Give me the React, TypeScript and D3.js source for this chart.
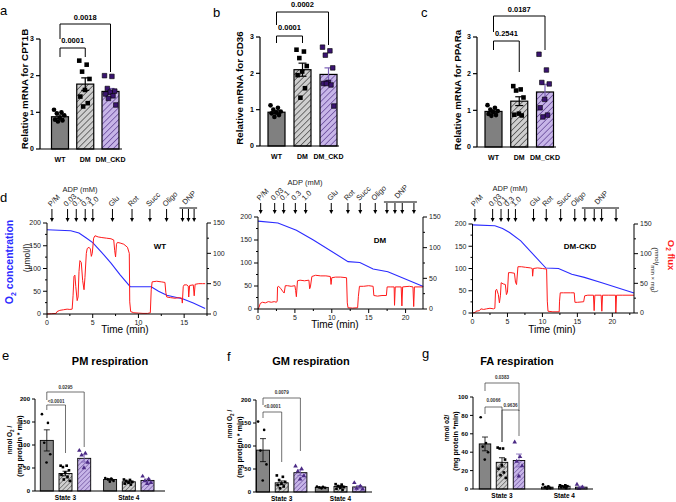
import React from "react";
import * as d3 from "d3";

const FONT = "'Liberation Sans', Arial, Helvetica, sans-serif";

// ---------- a–c: relative mRNA ----------
const groups = ["WT", "DM", "DM_CKD"];

const cpt1bMean = [0.88, 1.77, 1.57];
const cpt1bSem = [0.05, 0.17, 0.08];
const cpt1bPts = [
  [1.07, 1.0, 0.97, 0.92, 0.85, 0.8, 0.78, 0.75],
  [2.41, 2.3, 2.11, 1.91, 1.61, 1.43, 1.25, 1.16],
  [2.0, 1.98, 1.65, 1.58, 1.55, 1.5, 1.45, 1.38, 1.2],
];
const cpt1bP = ["0.0001", "0.0018"];

const cd36Mean = [0.93, 2.1, 1.97];
const cd36Sem = [0.04, 0.18, 0.18];
const cd36Pts = [
  [1.12, 1.05, 1.0, 0.95, 0.92, 0.9, 0.85, 0.8],
  [2.65, 2.6, 2.42, 2.2, 2.05, 1.95, 1.59, 1.33],
  [2.72, 2.62, 2.5, 2.15, 1.75, 1.72, 1.68, 1.72, 1.1],
];
const cd36P = ["0.0001", "0.0002"];

const pparMean = [0.97, 1.25, 1.5];
const pparSem = [0.04, 0.12, 0.21];
const pparPts = [
  [1.14, 1.07, 1.02, 0.98, 0.95, 0.9, 0.87, 0.85],
  [1.66, 1.57, 1.54, 1.35, 0.91, 0.88, 0.86],
  [2.53, 2.1, 1.76, 1.72, 1.3, 1.07, 0.87, 0.82],
];
const pparP = ["0.2541", "0.0187"];

// ---------- d: O2 traces (time in min) ----------
const injections = ["P/M", "0.03", "0.1", "0.3", "1.0", "Glu", "Rot", "Succ", "Oligo"];

const wtArrows = [0.54, 2.25, 3.2, 4.18, 5.01, 7.16, 9.3, 11.26, 13.08, 14.82, 15.47, 16.09];
const wtO2 = [
  [0, 185], [2.6, 183], [3.5, 178], [4.3, 167], [5.0, 157], [6, 135], [7, 112], [8, 86],
  [9.1, 60], [11.4, 60], [12.2, 50], [13.1, 41], [14.9, 33], [16, 24], [17.3, 12],
];
const wtFlux = [
  [0, 0], [0.5, 0.5], [1.0, 1], [1.1, 4], [1.4, 6], [1.8, 7], [2.2, 8], [2.5, 7.5], [2.75, 8],
  [2.85, 30], [2.95, 62], [3.05, 64], [3.15, 45], [3.3, 22], [3.4, 28], [3.5, 70], [3.6, 88],
  [3.75, 85], [3.9, 55], [4.05, 40], [4.15, 60], [4.3, 100], [4.4, 108], [4.6, 110], [4.75, 107],
  [4.85, 95], [4.95, 100], [5.1, 125], [5.25, 129], [5.6, 127], [6.0, 126], [6.5, 125], [7.0, 124],
  [7.3, 122], [7.4, 105], [7.5, 94], [7.6, 115], [7.7, 118], [8.0, 117], [8.4, 115], [8.8, 110],
  [9.0, 100], [9.05, 20], [9.15, 4], [9.5, 2], [10, 1.5], [10.5, 1], [11.0, 1], [11.3, 2],
  [11.4, 40], [11.5, 53], [12.0, 54], [12.5, 53], [12.9, 52], [13.0, 35], [13.1, 28], [13.5, 27],
  [14.0, 26], [14.5, 27], [14.75, 26], [14.8, 18], [14.9, 45], [15.0, 48], [15.3, 48], [15.45, 46],
  [15.5, 28], [15.6, 47], [16.0, 48], [16.1, 30], [16.2, 49], [16.6, 50], [17.0, 50], [17.3, 50],
];

const dmArrows = [0.36, 2.26, 3.48, 5.06, 6.46, 9.93, 12.19, 13.86, 15.89, 17.47, 18.56, 19.55, 21.13];
const dmO2 = [
  [0, 191], [2.7, 187], [5.2, 171], [7.5, 150], [12.2, 103], [13.8, 101], [15.6, 87],
  [17.6, 81], [22.4, 49],
];
const dmFlux = [
  [0, 0], [0.15, 3], [0.3, 9], [0.6, 11], [1.0, 10], [1.4, 12], [1.8, 11], [2.2, 12], [2.5, 11],
  [2.6, 13], [2.65, 36], [2.8, 37], [3.1, 33], [3.4, 28], [3.55, 26], [3.7, 38], [4.0, 38],
  [4.5, 37], [5.0, 38], [5.1, 30], [5.2, 20], [5.35, 46], [5.7, 47], [6.3, 46], [6.9, 47],
  [7.0, 33], [7.1, 36], [7.3, 53], [7.8, 55], [8.5, 54], [9.2, 54], [9.8, 53], [9.9, 40],
  [10.0, 51], [10.5, 52], [11.2, 52], [12.0, 51], [12.1, 10], [12.2, 2], [12.8, 1.5], [13.5, 2],
  [13.6, 20], [13.75, 37], [14.3, 37], [15.0, 38], [15.6, 37], [15.7, 22], [16.2, 21], [16.8, 22],
  [17.4, 22], [17.5, 36], [18.0, 36], [18.45, 36], [18.5, 6], [18.6, 36], [19.4, 36], [19.5, 5],
  [19.6, 36], [20.5, 37], [21.0, 36], [21.1, 4], [21.2, 36], [22.36, 36],
];

const ckdArrows = [0.34, 2.88, 4.08, 5.13, 6.14, 8.73, 10.55, 12.61, 14.63, 16.07, 17.41, 18.47, 20.53];
const ckdO2 = [
  [0, 198], [3.2, 196], [4.3, 190], [5.3, 181], [6.9, 162], [10.5, 101], [12.3, 100],
  [14.2, 87], [16, 80], [18.5, 68], [23.1, 45],
];
const ckdFlux = [
  [0, 0], [0.4, 1], [0.5, 3], [1.0, 4], [1.2, 7], [1.6, 6], [2.0, 7], [2.5, 8], [3.0, 7], [3.2, 8],
  [3.3, 38], [3.45, 40], [3.7, 31], [3.85, 17], [4.0, 30], [4.1, 51], [4.4, 49], [4.7, 48],
  [4.85, 31], [5.0, 35], [5.15, 68], [5.5, 68], [6.0, 67], [6.15, 52], [6.3, 48], [6.5, 78],
  [7.0, 78], [7.6, 77], [8.3, 76], [8.55, 75], [8.6, 62], [8.7, 75], [9.3, 76], [10, 75],
  [10.6, 74], [10.7, 20], [10.8, 3], [11.5, 2], [12.4, 2], [12.45, 20], [12.55, 34], [13.0, 34],
  [14.0, 34], [14.55, 34], [14.65, 18], [15.0, 18], [15.9, 19], [16.05, 29], [16.5, 30],
  [17.3, 30], [17.4, 4], [17.5, 30], [18.4, 30], [18.5, 3], [18.6, 30], [19.5, 30], [20.45, 30],
  [20.5, 0], [20.6, 30], [21.5, 30], [23.1, 30],
];

// ---------- e–g: respiration ----------
const states = ["State 3", "State 4"];

const pmMean = [[110, 38, 71], [25, 20, 23]];
const pmSem = [[23, 5, 8], [2, 2, 3]];
const pmS3Pts = [[167, 148, 105, 80, 62], [55, 55, 52, 45, 40, 35, 30, 25, 22], [88, 82, 78, 62, 50]];
const pmS4Pts = [[28, 27, 26, 22, 20], [25, 24, 22, 20, 18, 16, 14], [32, 26, 22, 18, 16]];
const pmP = ["<0.0001", "0.0295"];

const gmMean = [[91, 20, 42], [10, 12, 11]];
const gmSem = [[25, 4, 6], [1, 2, 3]];
const gmS3Pts = [[153, 135, 90, 60, 25], [36, 33, 26, 22, 18, 15, 12, 8], [56, 50, 45, 35, 28]];
const gmS4Pts = [[12, 11, 10, 9, 8], [17, 16, 13, 11, 9, 7, 5], [20, 13, 8, 6]];
const gmP = ["<0.0001", "0.0079"];

const faMean = [[49, 29, 31], [2, 3, 2]];
const faSem = [[7.5, 5, 7], [1, 0.5, 1]];
const faS3Pts = [[78, 50, 46, 40, 32], [45, 44, 44, 32, 26, 22, 18, 15, 12], [51, 35, 30, 25, 14]];
const faS4Pts = [[5, 3, 2, 1, 0.5], [4, 4, 3, 3, 2, 2, 1], [5, 2, 0.5]];
const faP = ["0.0066", "0.0383", "0.9636"];

// ---------- styles ----------
const barFills = ["#808080", "url(#hatchGray)", "url(#hatchPurple)"];
const errColors = ["#000", "#000", "#7b5fb5"];
const BLUE = "#2b2bff";
const RED = "#ff1a1a";

// spread scatter points across a bar without randomness
const jitter = (i: number, w: number) => (((i * 0.618) % 1) - 0.5) * w;

type Bracket = { y: number; l: number; r: number; ty: number };

type GeneCfg = {
  letter: string; letterX: number; letterY: number; gene: string;
  axisX: number; axisEnd: number; y0: number; y3: number; centers: [number, number];
  yLabelX: number; yLabelY: number;
  mean: number[]; sem: number[]; pts: number[][]; pvals: string[]; brackets: Bracket[];
};

const genePanels: GeneCfg[] = [
  {
    letter: "a", letterX: 0, letterY: 15, gene: "CPT1B", axisX: 40, axisEnd: 122, y0: 149, y3: 39,
    centers: [60, 110.5], yLabelX: 28, yLabelY: 89, mean: cpt1bMean, sem: cpt1bSem, pts: cpt1bPts,
    pvals: cpt1bP, brackets: [{ y: 48, l: 57, r: 57, ty: 42.5 }, { y: 24, l: 39, r: 72, ty: 19.5 }],
  },
  {
    letter: "b", letterX: 213, letterY: 17, gene: "CD36", axisX: 260, axisEnd: 339, y0: 146, y3: 37,
    centers: [276.5, 328.5], yLabelX: 243, yLabelY: 88, mean: cd36Mean, sem: cd36Sem, pts: cd36Pts,
    pvals: cd36P, brackets: [{ y: 36, l: 43, r: 43, ty: 30 }, { y: 12, l: 25, r: 45, ty: 6.5 }],
  },
  {
    letter: "c", letterX: 421, letterY: 17, gene: "PPARa", axisX: 477, axisEnd: 556, y0: 147, y3: 37,
    centers: [493.5, 545], yLabelX: 461, yLabelY: 90, mean: pparMean, sem: pparSem, pts: pparPts,
    pvals: pparP, brackets: [{ y: 41, l: 50, r: 72, ty: 36 }, { y: 16, l: 32, r: 50, ty: 12 }],
  },
];

function GenePanel({ cfg }: { cfg: GeneCfg }) {
  const y = d3.scaleLinear().domain([0, 3]).range([cfg.y0, cfg.y3]);
  const x = d3.scalePoint<string>().domain(groups).range(cfg.centers);
  const bw = 17;
  const circle = d3.symbol(d3.symbolCircle, 17)()!;
  const square = d3.symbol(d3.symbolSquare, 21)()!;
  const pairs = [[0, 1], [0, 2]];
  return (
    <g>
      <text x={cfg.letterX} y={cfg.letterY} fontSize={13}>{cfg.letter}</text>
      <text transform={`translate(${cfg.yLabelX},${cfg.yLabelY}) rotate(-90)`} textAnchor="middle"
        fontSize={9.8} fontWeight="bold">{`Relative mRNA for ${cfg.gene}`}</text>
      {groups.map((g, i) => (
        <rect key={g} x={x(g)! - bw / 2} y={y(cfg.mean[i])} width={bw} height={cfg.y0 - y(cfg.mean[i])}
          fill={barFills[i]} stroke="#000" strokeWidth={1.2} />
      ))}
      {groups.map((g, i) => {
        const cx = x(g)!;
        const lo = y(cfg.mean[i] - cfg.sem[i]);
        const hi = y(cfg.mean[i] + cfg.sem[i]);
        return (
          <g key={g} stroke={errColors[i]} strokeWidth={1.2}>
            <line x1={cx} x2={cx} y1={lo} y2={hi} />
            <line x1={cx - 4} x2={cx + 4} y1={hi} y2={hi} />
            <line x1={cx - 4} x2={cx + 4} y1={lo} y2={lo} />
          </g>
        );
      })}
      {cfg.pts.map((arr, gi) =>
        arr.map((v, k) => (
          <path key={`${gi}-${k}`} d={gi === 0 ? circle : square}
            transform={`translate(${x(groups[gi])! + jitter(k, 12)},${y(v)})`}
            fill={gi === 2 ? "#3a1470" : "#000"} stroke="#000" strokeWidth={gi === 2 ? 0.6 : 0} />
        ))
      )}
      {/* axes */}
      <line x1={cfg.axisX} x2={cfg.axisX} y1={cfg.y0} y2={y(3)} stroke="#000" strokeWidth={1.2} />
      <line x1={cfg.axisX} x2={cfg.axisEnd} y1={cfg.y0} y2={cfg.y0} stroke="#000" strokeWidth={1.2} />
      {y.ticks(3).map((t) => (
        <g key={t}>
          <line x1={cfg.axisX - 4} x2={cfg.axisX} y1={y(t)} y2={y(t)} stroke="#000" strokeWidth={1.2} />
          <text x={cfg.axisX - 6} y={y(t)} dy="0.35em" textAnchor="end" fontSize={7} fontWeight="bold">{t}</text>
        </g>
      ))}
      {groups.map((g) => (
        <text key={g} x={x(g)} y={cfg.y0 + 12.5} textAnchor="middle" fontSize={7} fontWeight="bold">{g}</text>
      ))}
      {pairs.map(([a, b], i) => {
        const br = cfg.brackets[i];
        const xa = x(groups[a])!;
        const xb = x(groups[b])!;
        return (
          <g key={i}>
            <path d={`M${xa},${br.l}V${br.y}H${xb}V${br.r}`} fill="none" stroke="#000" strokeWidth={1} />
            <text x={(xa + xb) / 2} y={br.ty} textAnchor="middle" fontSize={7.5} fontWeight="bold">{cfg.pvals[i]}</text>
          </g>
        );
      })}
    </g>
  );
}

type TraceCfg = {
  left: number; right: number; tMax: number; top: number; bottom: number;
  arrowTop: number; arrowTip: number; arrows: number[]; adpX: number; adpY: number;
  tag: string; tagX: number; tagY: number; timeX: number; timeY: number;
  o2: number[][]; flux: number[][];
};

const traces: TraceCfg[] = [
  {
    left: 47, right: 207, tMax: 17.5, top: 223, bottom: 314, arrowTop: 209, arrowTip: 222,
    arrows: wtArrows, adpX: 80, adpY: 192, tag: "WT", tagX: 160, tagY: 249, timeX: 125, timeY: 333,
    o2: wtO2, flux: wtFlux,
  },
  {
    left: 258, right: 423, tMax: 22.36, top: 217, bottom: 309, arrowTop: 203, arrowTip: 214,
    arrows: dmArrows, adpX: 305, adpY: 185, tag: "DM", tagX: 380, tagY: 243, timeX: 335, timeY: 328,
    o2: dmO2, flux: dmFlux,
  },
  {
    left: 472.5, right: 634, tMax: 23.1, top: 224, bottom: 313, arrowTop: 209, arrowTip: 222,
    arrows: ckdArrows, adpX: 510, adpY: 191, tag: "DM-CKD", tagX: 580, tagY: 249, timeX: 552, timeY: 333,
    o2: ckdO2, flux: ckdFlux,
  },
];

function TracePanel({ cfg }: { cfg: TraceCfg }) {
  const x = d3.scaleLinear().domain([0, cfg.tMax]).range([cfg.left, cfg.right]);
  const yL = d3.scaleLinear().domain([0, 200]).range([cfg.bottom, cfg.top]);
  const yR = d3.scaleLinear().domain([0, 150]).range([cfg.bottom, cfg.top]);
  const o2Line = d3.line<number[]>().x((d) => x(d[0])).y((d) => yL(d[1]));
  const fluxLine = d3.line<number[]>().x((d) => x(d[0])).y((d) => yR(d[1]));
  const leftTicks = d3.range(0, 201, 25);
  const rightTicks = d3.range(0, 151, 25);
  const timeTicks = d3.range(0, cfg.tMax + 0.01, 2.5);
  const dnp = cfg.arrows.slice(injections.length);
  const dnpX0 = x(dnp[0]) - 3;
  const dnpX1 = x(dnp[dnp.length - 1]) + 3;
  return (
    <g>
      <path d={o2Line(cfg.o2)!} fill="none" stroke={BLUE} strokeWidth={1.1} />
      <path d={fluxLine(cfg.flux)!} fill="none" stroke={RED} strokeWidth={1} strokeLinejoin="round" />
      {/* axes */}
      <g stroke="#000" strokeWidth={1}>
        <line x1={cfg.left} x2={cfg.left} y1={cfg.bottom} y2={cfg.top} />
        <line x1={cfg.right} x2={cfg.right} y1={cfg.bottom} y2={cfg.top} />
        <line x1={cfg.left} x2={cfg.right} y1={cfg.bottom} y2={cfg.bottom} />
        {leftTicks.map((t) => (
          <line key={`l${t}`} x1={cfg.left - (t % 50 === 0 ? 4 : 2)} x2={cfg.left} y1={yL(t)} y2={yL(t)} />
        ))}
        {rightTicks.map((t) => (
          <line key={`r${t}`} x1={cfg.right} x2={cfg.right + (t % 50 === 0 ? 4 : 2)} y1={yR(t)} y2={yR(t)} />
        ))}
        {timeTicks.map((t) => (
          <line key={`t${t}`} x1={x(t)} x2={x(t)} y1={cfg.bottom} y2={cfg.bottom + (t % 5 === 0 ? 4 : 2)} />
        ))}
      </g>
      <g fontSize={7} fill="#222">
        {leftTicks.filter((t) => t % 50 === 0).map((t) => (
          <text key={`l${t}`} x={cfg.left - 6} y={yL(t)} dy="0.35em" textAnchor="end">{t}</text>
        ))}
        {rightTicks.filter((t) => t % 50 === 0).map((t) => (
          <text key={`r${t}`} x={cfg.right + 6} y={yR(t)} dy="0.35em">{t}</text>
        ))}
        {timeTicks.filter((t) => t % 5 === 0).map((t) => (
          <text key={`t${t}`} x={x(t)} y={cfg.bottom + 10.5} textAnchor="middle">{t}</text>
        ))}
      </g>
      <text x={cfg.timeX} y={cfg.timeY} textAnchor="middle" fontSize={10}>Time (min)</text>
      <text x={cfg.tagX} y={cfg.tagY} textAnchor="middle" fontSize={8} fontWeight="bold">{cfg.tag}</text>
      {/* injections */}
      {cfg.arrows.map((t, i) => {
        const ax = x(t);
        return (
          <g key={i}>
            <line x1={ax} x2={ax} y1={cfg.arrowTop} y2={cfg.arrowTip - 3} stroke="#000" strokeWidth={1} />
            <path d={`M${ax - 2},${cfg.arrowTip - 4}L${ax + 2},${cfg.arrowTip - 4}L${ax},${cfg.arrowTip}Z`} fill="#000" />
            {i < injections.length && (
              <text transform={`translate(${ax - 1},${cfg.arrowTop - 2}) rotate(-45)`} fontSize={7.5} fill="#222">
                {injections[i]}
              </text>
            )}
          </g>
        );
      })}
      <line x1={dnpX0} x2={dnpX1} y1={cfg.arrowTop - 1} y2={cfg.arrowTop - 1} stroke="#000" strokeWidth={1} />
      <text transform={`translate(${(dnpX0 + dnpX1) / 2 - 3},${cfg.arrowTop - 4}) rotate(-45)`} fontSize={7.5} fill="#222">DNP</text>
      <text x={cfg.adpX} y={cfg.adpY} textAnchor="middle" fontSize={7.5} fill="#222">ADP (mM)</text>
    </g>
  );
}

type RespCfg = {
  letter: string; letterX: number; letterY: number; title: string; titleX: number;
  axisX: number; axisEnd: number; y0: number; yTop: number; yMax: number; yStep: number;
  stateCenters: [number, number]; step: number; bw: number;
  lab1: string; lab1X: number; lab1Y: number; lab2: string; lab2X: number; lab2Y: number;
  mean: number[][]; sem: number[][]; pts: number[][][]; pvals: string[];
  pairs: number[][]; brackets: Bracket[];
};

const respPanels: RespCfg[] = [
  {
    letter: "e", letterX: 2, letterY: 360, title: "PM respiration", titleX: 110,
    axisX: 35, axisEnd: 165, y0: 491, yTop: 399, yMax: 200, yStep: 50,
    stateCenters: [65.5, 128.8], step: 18.7, bw: 13,
    lab1: "nmol O", lab1X: 12, lab1Y: 440, lab2: "(mg protein * min)", lab2X: 21.5, lab2Y: 446,
    mean: pmMean, sem: pmSem, pts: [pmS3Pts, pmS4Pts], pvals: pmP, pairs: [[0, 1], [0, 2]],
    brackets: [{ y: 405, l: 410, r: 453, ty: 402.5 }, { y: 392, l: 400, r: 447, ty: 389 }],
  },
  {
    letter: "f", letterX: 227, letterY: 361, title: "GM respiration", titleX: 311,
    axisX: 256, axisEnd: 372, y0: 492, yTop: 400, yMax: 200, yStep: 50,
    stateCenters: [281.7, 340.5], step: 18.7, bw: 13,
    lab1: "nmol O", lab1X: 232, lab1Y: 424, lab2: "(mg protein * min)", lab2X: 241.5, lab2Y: 447,
    mean: gmMean, sem: gmSem, pts: [gmS3Pts, gmS4Pts], pvals: gmP, pairs: [[0, 1], [0, 2]],
    brackets: [{ y: 412, l: 418, r: 462, ty: 408 }, { y: 398, l: 405, r: 451, ty: 394 }],
  },
  {
    letter: "g", letterX: 422, letterY: 358, title: "FA respiration", titleX: 517,
    axisX: 473, axisEnd: 593, y0: 489, yTop: 397, yMax: 100, yStep: 20,
    stateCenters: [502, 564.3], step: 17, bw: 11.5,
    lab1: "nmol o2/", lab1X: 449, lab1Y: 428, lab2: "(mg protein *min)", lab2X: 458, lab2Y: 441,
    mean: faMean, sem: faSem, pts: [faS3Pts, faS4Pts], pvals: faP, pairs: [[0, 1], [0, 2], [1, 2]],
    brackets: [
      { y: 407, l: 414, r: 442, ty: 402 },
      { y: 383, l: 391, r: 411, ty: 378.5 },
      { y: 410, l: 442, r: 436, ty: 406.5 },
    ],
  },
];

function RespPanel({ cfg }: { cfg: RespCfg }) {
  const y = d3.scaleLinear().domain([0, cfg.yMax]).range([cfg.y0, cfg.yTop]);
  const xs = d3.scalePoint<string>().domain(states).range(cfg.stateCenters);
  const xg = d3.scalePoint<string>().domain(groups).range([-cfg.step, cfg.step]);
  const cx = (s: number, g: number) => xs(states[s])! + xg(groups[g])!;
  const shapes = [
    d3.symbol(d3.symbolCircle, 5.5)()!,
    d3.symbol(d3.symbolSquare, 7)()!,
    d3.symbol(d3.symbolTriangle, 9)()!,
  ];
  const ticks = d3.range(0, cfg.yMax + 0.1, cfg.yStep);
  return (
    <g>
      <text x={cfg.letterX} y={cfg.letterY} fontSize={13}>{cfg.letter}</text>
      <text x={cfg.titleX} y={365} textAnchor="middle" fontSize={11} fontWeight="bold">{cfg.title}</text>
      <text transform={`translate(${cfg.lab1X},${cfg.lab1Y}) rotate(-90)`} textAnchor="middle" fontSize={6.5} fontWeight="bold">
        {cfg.lab1 === "nmol O" ? (
          <>nmol O<tspan dy={1.5} fontSize={4.5}>2</tspan><tspan dy={-1.5}> /</tspan></>
        ) : cfg.lab1}
      </text>
      <text transform={`translate(${cfg.lab2X},${cfg.lab2Y}) rotate(-90)`} textAnchor="middle" fontSize={7.2} fontWeight="bold">{cfg.lab2}</text>
      {states.map((st, s) =>
        groups.map((g, gi) => {
          const m = cfg.mean[s][gi];
          return (
            <rect key={`${st}-${g}`} x={cx(s, gi) - cfg.bw / 2} y={y(m)} width={cfg.bw} height={cfg.y0 - y(m)}
              fill={gi === 0 ? "#858585" : gi === 1 ? "url(#hatchGraySm)" : "url(#hatchPurpleSm)"}
              stroke="#000" strokeWidth={0.9} />
          );
        })
      )}
      {states.map((st, s) =>
        groups.map((g, gi) => {
          const c = cx(s, gi);
          const lo = y(Math.max(0, cfg.mean[s][gi] - cfg.sem[s][gi]));
          const hi = y(cfg.mean[s][gi] + cfg.sem[s][gi]);
          return (
            <g key={`${st}-${g}`} stroke={errColors[gi]} strokeWidth={0.8}>
              <line x1={c} x2={c} y1={lo} y2={hi} />
              <line x1={c - 3} x2={c + 3} y1={hi} y2={hi} />
              <line x1={c - 3} x2={c + 3} y1={lo} y2={lo} />
            </g>
          );
        })
      )}
      {cfg.pts.map((byGroup, s) =>
        byGroup.map((arr, gi) =>
          arr.map((v, k) => (
            <path key={`${s}-${gi}-${k}`} d={shapes[gi]}
              transform={`translate(${cx(s, gi) + jitter(k, cfg.bw * 0.75)},${y(v)})`}
              fill={gi === 2 ? "#4b2a85" : "#000"} />
          ))
        )
      )}
      <line x1={cfg.axisX} x2={cfg.axisX} y1={cfg.y0} y2={cfg.yTop} stroke="#000" strokeWidth={1} />
      <line x1={cfg.axisX} x2={cfg.axisEnd} y1={cfg.y0} y2={cfg.y0} stroke="#000" strokeWidth={1} />
      {ticks.map((t) => (
        <g key={t}>
          <line x1={cfg.axisX - 3} x2={cfg.axisX} y1={y(t)} y2={y(t)} stroke="#000" strokeWidth={1} />
          <text x={cfg.axisX - 5} y={y(t)} dy="0.35em" textAnchor="end" fontSize={6} fontWeight="bold">{t}</text>
        </g>
      ))}
      {states.map((st) => (
        <text key={st} x={xs(st)} y={cfg.y0 + 9} textAnchor="middle" fontSize={6.5} fontWeight="bold">{st}</text>
      ))}
      {cfg.pairs.map(([a, b], i) => {
        const br = cfg.brackets[i];
        const xa = cx(0, a);
        const xb = cx(0, b);
        return (
          <g key={i}>
            <path d={`M${xa},${br.l}V${br.y}H${xb}V${br.r}`} fill="none" stroke="#333" strokeWidth={0.7} />
            <text x={(xa + xb) / 2} y={br.ty} textAnchor="middle" fontSize={4.6} fontWeight="bold" fill="#333">{cfg.pvals[i]}</text>
          </g>
        );
      })}
    </g>
  );
}

function Hatch({ id, size, bg, fg, w }: { id: string; size: number; bg: string; fg: string; w: number }) {
  return (
    <pattern id={id} width={size} height={size} patternUnits="userSpaceOnUse" patternTransform="rotate(45)">
      <rect width={size} height={size} fill={bg} />
      <line x1={0} y1={0} x2={0} y2={size} stroke={fg} strokeWidth={w} />
    </pattern>
  );
}

export default function App() {
  return (
    <svg width={676} height={502} viewBox="0 0 676 502" fontFamily={FONT}
      style={{ position: "absolute", left: 0, top: 0, background: "#fff" }}>
      <defs>
        <Hatch id="hatchGray" size={4.2} bg="#cfcfcf" fg="#555" w={1.6} />
        <Hatch id="hatchPurple" size={4.2} bg="#c7b5e8" fg="#6d519f" w={1.6} />
        <Hatch id="hatchGraySm" size={3.2} bg="#cfcfcf" fg="#555" w={1.2} />
        <Hatch id="hatchPurpleSm" size={3.2} bg="#c7b5e8" fg="#6d519f" w={1.2} />
      </defs>
      <rect width={676} height={502} fill="#fff" />

      {genePanels.map((cfg) => <GenePanel key={cfg.letter} cfg={cfg} />)}

      <text x={0} y={202} fontSize={13}>d</text>
      {traces.map((cfg) => <TracePanel key={cfg.tag} cfg={cfg} />)}
      {/* shared axis titles of the trace row */}
      <text transform="translate(13,262) rotate(-90)" textAnchor="middle" fontSize={10.5} fontWeight="bold" fill={BLUE}>
        O<tspan dy={2.5} fontSize={7}>2</tspan><tspan dy={-2.5}> concentration</tspan>
      </text>
      <text transform="translate(29.5,258) rotate(-90)" textAnchor="middle" fontSize={8.5} fill="#222">(µmol/l)</text>
      <text transform="translate(668,255) rotate(90)" textAnchor="middle" fontSize={9.5} fontWeight="bold" fill={RED}>
        O<tspan dy={2.2} fontSize={6.5}>2</tspan><tspan dy={-2.2}> flux</tspan>
      </text>
      <text transform="translate(653,270) rotate(90)" textAnchor="middle" fontSize={8} fill="#222">
        (<tspan dy={-2} fontSize={6}>nmol</tspan><tspan dy={2}>/</tspan><tspan dy={2} fontSize={6}>min × mg</tspan><tspan dy={-2}>)</tspan>
      </text>

      {respPanels.map((cfg) => <RespPanel key={cfg.letter} cfg={cfg} />)}
    </svg>
  );
}
